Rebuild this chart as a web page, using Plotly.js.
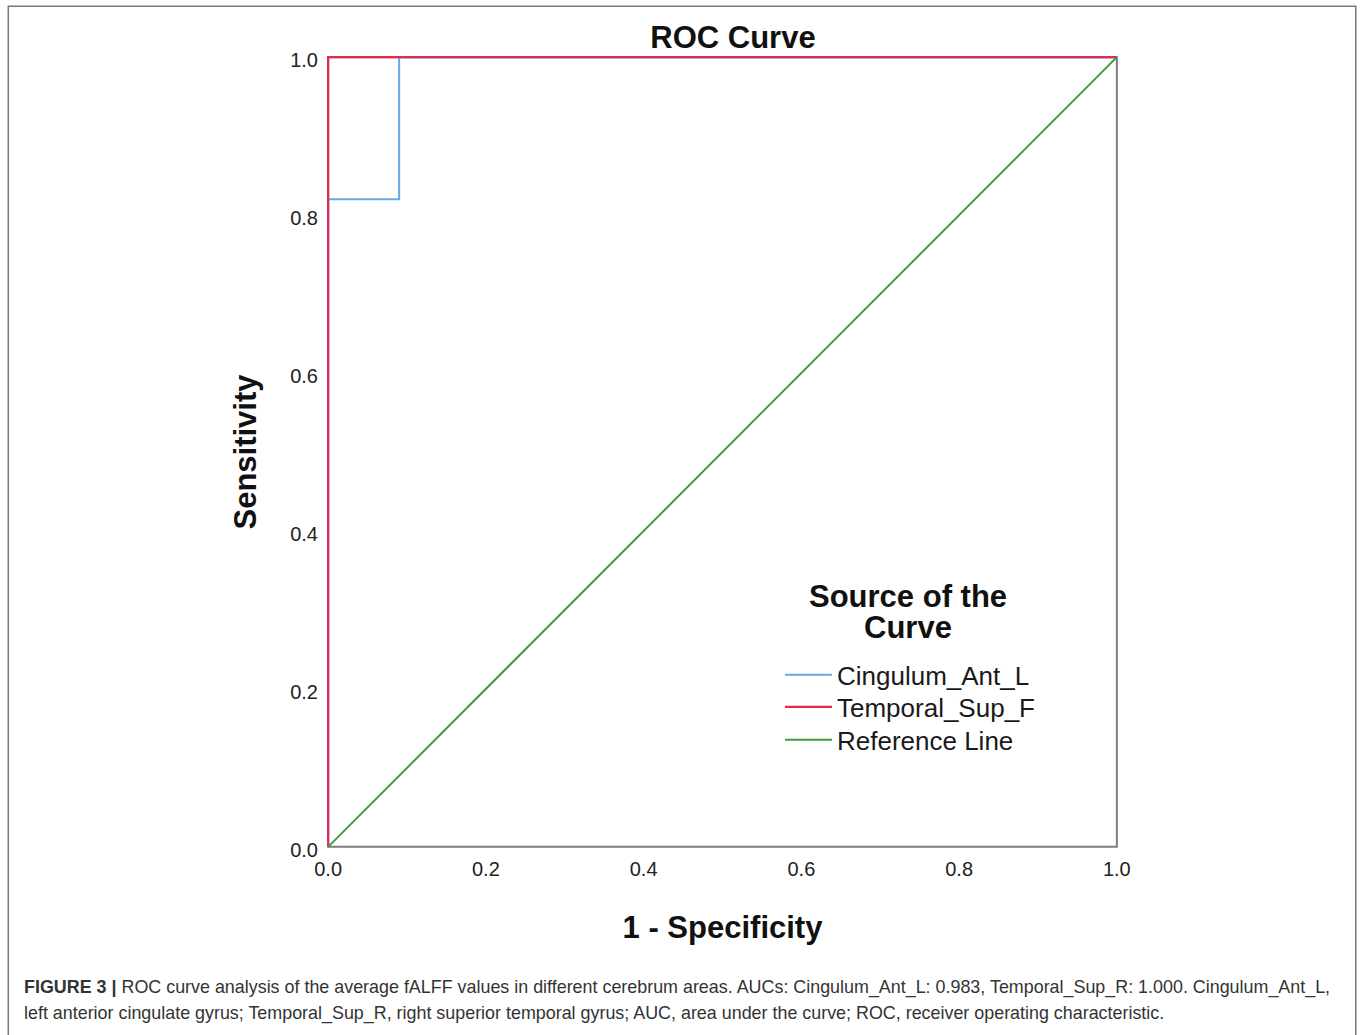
<!DOCTYPE html>
<html>
<head>
<meta charset="utf-8">
<script src="https://cdn.plot.ly/plotly-3.0.1.min.js"></script>
<style>html,body{margin:0;padding:0;background:#fff;}</style>
</head>
<body>
<div id="chart" style="width:1362px;height:1035px;"></div>
<script>
// Data
const seriesNames = ["Cingulum_Ant_L", "Temporal_Sup_F", "Reference Line"];
const cingulumX = [0, 0, 0.09, 0.09, 1];
const cingulumY = [0, 0.82, 0.82, 1, 1];
const temporalX = [0, 0, 1];
const temporalY = [0, 1, 1];
const referenceX = [0, 1];
const referenceY = [0, 1];
const tickVals = [0, 0.2, 0.4, 0.6, 0.8, 1.0];
const tickText = ["0.0", "0.2", "0.4", "0.6", "0.8", "1.0"];

const W = 1362, H = 1035;
// pixel positions of data 0 and 1
const L = 328, R = 1117, T = 57, B = 847;
const PAD = 0.004; // small range padding so lines on the frame are not clipped
const unitX = R - L, unitY = B - T;
const Lp = L - PAD * unitX, Rp = R + PAD * unitX;
const Tp = T - PAD * unitY, Bp = B + PAD * unitY;
const pw = Rp - Lp, ph = Bp - Tp;
const px = v => (v - Lp) / pw;
const py = v => (Bp - v) / ph;

const FONT = "Liberation Sans, Arial, Helvetica, sans-serif";

const colors = ["#6aa6ea", "#df2a52", "#3f9b3f"];
const traces = [
  {x: cingulumX, y: cingulumY, mode: "lines", name: seriesNames[0], legend: "legend",
   line: {color: colors[0], width: 2}},
  {x: temporalX, y: temporalY, mode: "lines", name: seriesNames[1], legend: "legend2",
   line: {color: colors[1], width: 2.2}},
  {x: referenceX, y: referenceY, mode: "lines", name: seriesNames[2], legend: "legend3",
   line: {color: colors[2], width: 2}}
];

const axisCommon = {
  range: [-PAD, 1 + PAD],
  tickvals: tickVals,
  ticktext: tickText,
  showgrid: false,
  zeroline: false,
  showline: false,
  ticks: "outside",
  tickcolor: "rgba(0,0,0,0)",
  tickfont: {family: FONT, size: 20, color: "#222"},
  fixedrange: true
};

const legendCommon = {
  xanchor: "left", yanchor: "middle",
  bgcolor: "rgba(0,0,0,0)",
  borderwidth: 0,
  font: {family: FONT, size: 26, color: "#1a1a1a"},
  itemwidth: 47
};

const layout = {
  width: W, height: H,
  margin: {l: Lp, r: W - Rp, t: Tp, b: H - Bp, pad: 0},
  paper_bgcolor: "#fff",
  plot_bgcolor: "#fff",
  showlegend: true,
  title: {
    text: "<b>ROC Curve</b>",
    font: {family: FONT, size: 31, color: "#111"},
    x: px(733), xref: "paper", xanchor: "center",
    y: 1 - 37 / H, yref: "container", yanchor: "middle"
  },
  xaxis: Object.assign({}, axisCommon, {
    ticklen: 1,
    title: {text: "<b>1 - Specificity</b>", font: {family: FONT, size: 31, color: "#111"}, standoff: 37}
  }),
  yaxis: Object.assign({}, axisCommon, {
    ticklen: 2,
    ticklabelshift: 3,
    title: {text: "<b>Sensitivity</b>", font: {family: FONT, size: 31, color: "#111"}, standoff: 24}
  }),
  legend: Object.assign({}, legendCommon, {x: px(780), y: py(675)}),
  legend2: Object.assign({}, legendCommon, {x: px(780), y: py(707)}),
  legend3: Object.assign({}, legendCommon, {x: px(780), y: py(740)}),
  shapes: [
    {type: "rect", xref: "x", yref: "y", x0: 0, x1: 1, y0: 0, y1: 1,
     line: {color: "#7d7d7d", width: 2}, fillcolor: "rgba(0,0,0,0)", layer: "below"},
    {type: "rect", xref: "paper", yref: "paper",
     x0: px(8), x1: px(1356), y0: py(1040), y1: py(6),
     line: {color: "#777", width: 1.5}, fillcolor: "rgba(0,0,0,0)", layer: "below"}
  ],
  annotations: [
    {xref: "paper", yref: "paper", x: px(908), y: py(596), xanchor: "center", yanchor: "middle",
     showarrow: false, text: "<b>Source of the</b>", height: 30, borderpad: 0,
     font: {family: FONT, size: 31, color: "#111"}},
    {xref: "paper", yref: "paper", x: px(908), y: py(627), xanchor: "center", yanchor: "middle",
     showarrow: false, text: "<b>Curve</b>", height: 30, borderpad: 0,
     font: {family: FONT, size: 31, color: "#111"}},
    {xref: "paper", yref: "paper", x: px(22), y: py(988), xanchor: "left", yanchor: "middle",
     showarrow: false, align: "left",
     text: "<b>FIGURE 3 |</b> ROC curve analysis of the average fALFF values in different cerebrum areas. AUCs: Cingulum_Ant_L: 0.983, Temporal_Sup_R: 1.000. Cingulum_Ant_L,",
     font: {family: FONT, size: 17.9, color: "#333"}},
    {xref: "paper", yref: "paper", x: px(22), y: py(1014), xanchor: "left", yanchor: "middle",
     showarrow: false, align: "left",
     text: "left anterior cingulate gyrus; Temporal_Sup_R, right superior temporal gyrus; AUC, area under the curve; ROC, receiver operating characteristic.",
     font: {family: FONT, size: 17.9, color: "#333"}}
  ]
};

Plotly.newPlot("chart", traces, layout, {displayModeBar: false, staticPlot: true});
</script>
</body>
</html>
